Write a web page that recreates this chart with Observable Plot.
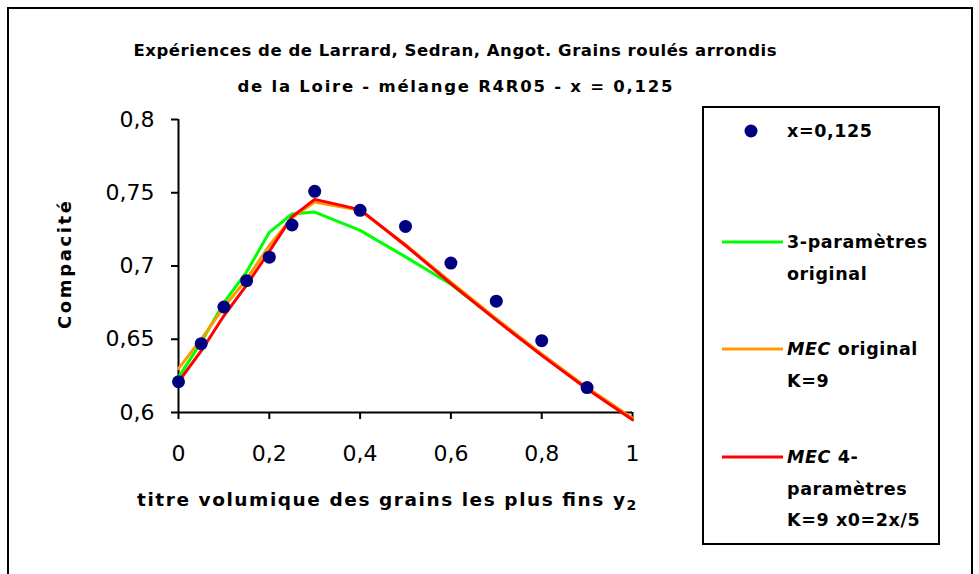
<!DOCTYPE html>
<html>
<head>
<meta charset="utf-8">
<script src="https://cdn.jsdelivr.net/npm/d3@7"></script>
<script src="https://cdn.jsdelivr.net/npm/@observablehq/plot@0.6"></script>
<style>
  html, body { margin: 0; padding: 0; background: #fff; overflow: hidden; }
  #wrap { position: relative; width: 979px; height: 574px; }
  #frame { position: absolute; left: 7px; top: 7px; width: 966px; height: 700px; border: 2px solid #000; box-sizing: border-box; }
  #chart { position: absolute; left: 0; top: 0; }
  #over { position: absolute; left: 0; top: 0; pointer-events: none; }
</style>
</head>
<body>
<div id="wrap">
  <div id="frame"></div>
  <div id="chart"></div>
  <svg id="over" width="979" height="574"></svg>
</div>
<script>
// ---- data ----
const titleLines = [
  "Expériences de de Larrard, Sedran, Angot. Grains roulés arrondis",
  "de la Loire - mélange R4R05 - x = 0,125"
];
const xLabel = "titre volumique des grains les plus fins y";
const xLabelSub = "2";
const yLabel = "Compacité";

const xTicks = [0, 0.2, 0.4, 0.6, 0.8, 1];
const yTicks = [0.6, 0.65, 0.7, 0.75, 0.8];

// measured points (x = 0,125)
const ptX = [0, 0.05, 0.1, 0.15, 0.2, 0.25, 0.3, 0.4, 0.5, 0.6, 0.7, 0.8, 0.9];
const ptY = [0.621, 0.647, 0.672, 0.690, 0.706, 0.728, 0.751, 0.738, 0.727, 0.702, 0.676, 0.649, 0.617];

// model curves
const curveX = [0, 0.05, 0.1, 0.15, 0.2, 0.25, 0.3, 0.4, 0.5, 0.6, 0.7, 0.8, 0.9, 1];
const green  = [0.624, 0.648, 0.675, 0.696, 0.723, 0.7355, 0.7368, 0.7243, 0.7062, 0.6875, 0.6635, 0.6395, 0.6165, 0.5955];
const orange = [0.630, 0.650, 0.672, 0.691, 0.714, 0.733, 0.7437, 0.738, 0.7145, 0.689, 0.664, 0.640, 0.617, 0.596];
const red    = [0.621, 0.642, 0.666, 0.687, 0.710, 0.7335, 0.7455, 0.7385, 0.714, 0.688, 0.663, 0.639, 0.616, 0.595];

const seriesNames = [["x=0,125"], ["3-paramètres", "original"], ["MEC original", "K=9"], ["MEC 4-", "paramètres", "K=9 x0=2x/5"]];
const seriesColors = ["#000080", "#00ff00", "#ff9900", "#ff0000"];

// ---- build tables ----
const points = ptX.map((x, i) => ({x, y: ptY[i]}));
const curves = [green, orange, red].map((vals, k) => curveX.map((x, i) => ({x, y: vals[i], k})));

const fmt = d => String(d).replace(".", ",");
const numFont = "'DejaVu Sans', sans-serif";
const boldFont = "'DejaVu Sans', sans-serif";

const chart = Plot.plot({
  width: 979,
  height: 574,
  marginLeft: 178,
  marginRight: 347,
  marginTop: 119,
  marginBottom: 162,
  style: {fontFamily: numFont, background: "transparent", overflow: "visible"},
  x: {domain: [0, 1]},
  y: {domain: [0.6, 0.8]},
  marks: [
    Plot.axisY({ticks: yTicks, tickFormat: fmt, tickSize: 7, tickPadding: 17, fontSize: 22, label: null, strokeWidth: 2, color: "#000"}),
    Plot.axisX({ticks: xTicks, tickFormat: fmt, tickSize: 7, tickPadding: 26, fontSize: 22, label: null, strokeWidth: 2, color: "#000"}),
    Plot.ruleX([0], {y1: 0.6, y2: 0.8, stroke: "#000", strokeWidth: 2}),
    Plot.ruleY([0.6], {x1: 0, x2: 1, stroke: "#000", strokeWidth: 2}),
    ...curves.map((c, k) => Plot.line(c, {x: "x", y: "y", stroke: seriesColors[k + 1], strokeWidth: 3, strokeLinejoin: "round"})),
    Plot.dot(points, {x: "x", y: "y", r: 6.5, fill: seriesColors[0], stroke: "none"})
  ]
});
document.getElementById("chart").appendChild(chart);

// ---- overlay: title, axis labels, legend ----
const svg = d3.select("#over");
const titleW = [643, 435];
svg.selectAll("text.title").data(titleLines).join("text")
  .attr("x", 455).attr("y", (d, i) => 56 + i * 36)
  .attr("text-anchor", "middle")
  .attr("font-family", boldFont).attr("font-weight", "bold").attr("font-size", 16.5)
  .attr("textLength", (d, i) => titleW[i]).attr("lengthAdjust", "spacing")
  .text(d => d);

const xl = svg.append("text").attr("x", 137).attr("y", 506)
  .attr("font-family", boldFont).attr("font-weight", "bold").attr("font-size", 18.5);
xl.append("tspan").attr("textLength", 488).attr("lengthAdjust", "spacing").text(xLabel);
xl.append("tspan").attr("dy", 4).attr("font-size", 14).text(xLabelSub);

svg.append("text").attr("transform", "translate(71,265) rotate(-90)")
  .attr("text-anchor", "middle")
  .attr("font-family", boldFont).attr("font-weight", "bold").attr("font-size", 18)
  .attr("textLength", 128).attr("lengthAdjust", "spacing")
  .text(yLabel);

// legend
svg.append("rect").attr("x", 703).attr("y", 107).attr("width", 236).attr("height", 437)
  .attr("fill", "none").attr("stroke", "#000").attr("stroke-width", 2);
const legY = [131, 242, 349, 457];
seriesNames.forEach((lines, k) => {
  const y0 = legY[k];
  if (k === 0) {
    svg.append("circle").attr("cx", 751).attr("cy", y0).attr("r", 6.5).attr("fill", seriesColors[0]);
  } else {
    svg.append("line").attr("x1", 722).attr("x2", 783).attr("y1", y0).attr("y2", y0)
      .attr("stroke", seriesColors[k]).attr("stroke-width", 3);
  }
  lines.forEach((t, j) => {
    const tx = svg.append("text").attr("x", 787).attr("y", y0 + 6 + j * 31.5)
      .attr("font-family", boldFont).attr("font-weight", "bold").attr("font-size", 17.5)
      .attr("letter-spacing", 0.6);
    if (t.startsWith("MEC")) {
      tx.append("tspan").attr("font-style", "italic").text("MEC");
      tx.append("tspan").text(t.slice(3));
    } else {
      tx.text(t);
    }
  });
});
</script>
</body>
</html>
